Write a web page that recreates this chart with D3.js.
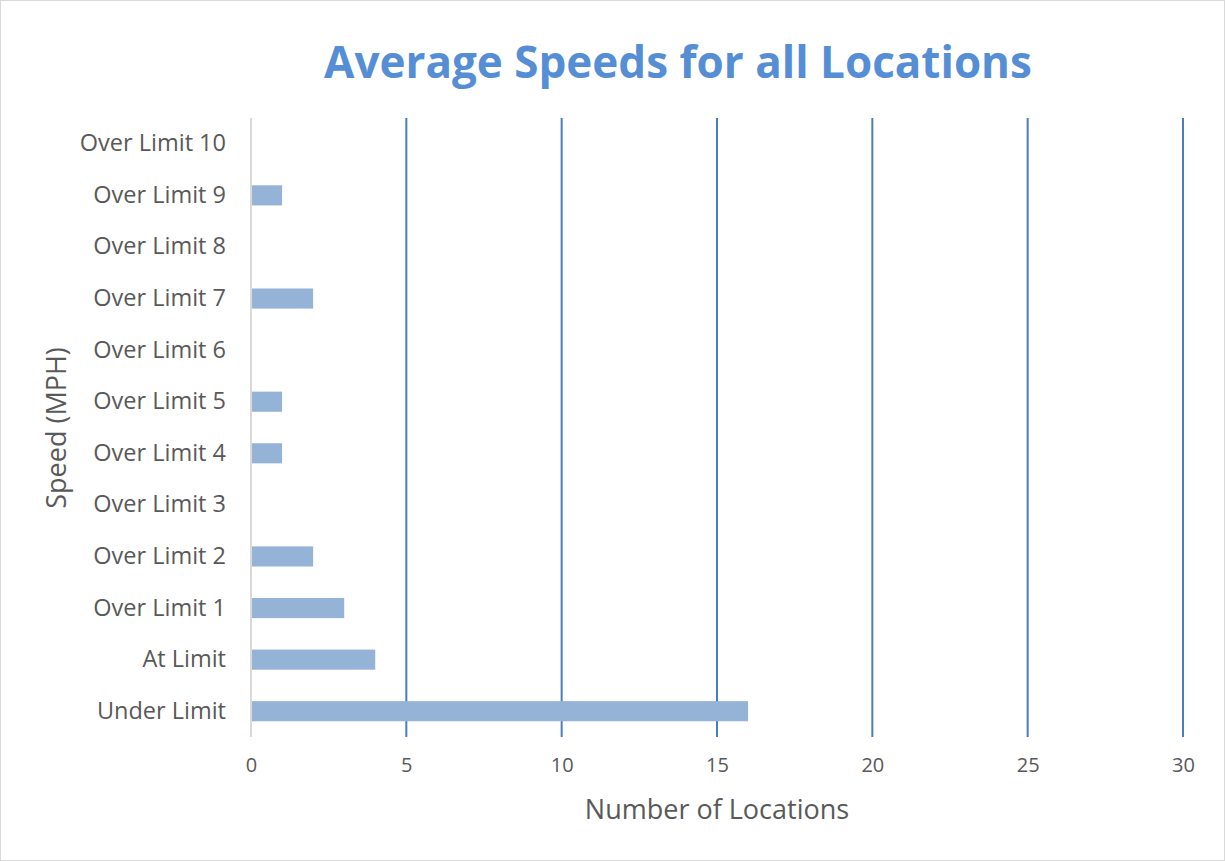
<!DOCTYPE html>
<html><head><meta charset="utf-8">
<script src="https://cdn.jsdelivr.net/npm/d3@7"></script>
<style>body{margin:0;background:#fff;}svg{display:block;font-family:"Open Sans",sans-serif;}</style>
</head><body>
<svg id="c" width="1225" height="861"></svg>
<script>
const categories = ["Under Limit","At Limit","Over Limit 1","Over Limit 2","Over Limit 3","Over Limit 4","Over Limit 5","Over Limit 6","Over Limit 7","Over Limit 8","Over Limit 9","Over Limit 10"];
const values = [16,4,3,2,0,1,1,0,2,0,1,0];
const xTicks = [0,5,10,15,20,25,30];
const title = "Average Speeds for all Locations";
const xTitle = "Number of Locations";
const yTitle = "Speed (MPH)";

const svg = d3.select("#c");
svg.append("rect").attr("x",0.5).attr("y",0.5).attr("width",1224).attr("height",860)
  .attr("fill","#fff").attr("stroke","#d9d9d9");
const m = {left:251, right:1183, top:118, bottom:737};
const x = d3.scaleLinear().domain([0,30]).range([m.left,m.right]);
const y = d3.scaleBand().domain(categories.slice().reverse()).range([m.top,m.bottom]).paddingInner(0.61).paddingOuter(0.305);

svg.append("g").selectAll("line").data(xTicks.filter(d=>d>0)).join("line")
  .attr("x1",d=>x(d)).attr("x2",d=>x(d)).attr("y1",m.top).attr("y2",m.bottom)
  .attr("stroke","#4a7ebb").attr("stroke-width",2);
svg.append("line").attr("x1",x(0)).attr("x2",x(0)).attr("y1",m.top).attr("y2",m.bottom)
  .attr("stroke","#d9d9d9").attr("stroke-width",2);

svg.append("g").selectAll("rect").data(categories.map((c,i)=>({c,v:values[i]}))).join("rect")
  .attr("x",x(0)+1).attr("y",d=>y(d.c)).attr("height",y.bandwidth())
  .attr("width",d=>Math.max(0,x(d.v)-x(0)-1)).attr("fill","#95b3d7");

const xa = d3.axisBottom(x).tickValues(xTicks).tickSize(0).tickPadding(0);
const gx = svg.append("g").attr("transform",`translate(0,${m.bottom+21})`).call(xa);
gx.select(".domain").remove();
gx.selectAll("text").attr("font-size",20).attr("fill","#595959").attr("font-family","Open Sans, sans-serif").attr("dy","0.71em");

const ya = d3.axisLeft(y).tickSize(0).tickPadding(0);
const gy = svg.append("g").attr("transform",`translate(${m.left-25},0)`).call(ya);
gy.select(".domain").remove();
gy.selectAll("text").attr("font-size",23.5).attr("fill","#595959").attr("font-family","Open Sans, sans-serif");

svg.append("text").attr("x",678).attr("y",78).attr("text-anchor","middle")
  .attr("font-size",44).attr("font-weight","bold").attr("fill","#558ed5").text(title);
svg.append("text").attr("x",717).attr("y",819).attr("text-anchor","middle")
  .attr("font-size",27).attr("fill","#595959").text(xTitle);
svg.append("text").attr("transform","translate(66,428) rotate(-90)").attr("text-anchor","middle")
  .attr("font-size",27).attr("fill","#595959").text(yTitle);
</script>
</body></html>
